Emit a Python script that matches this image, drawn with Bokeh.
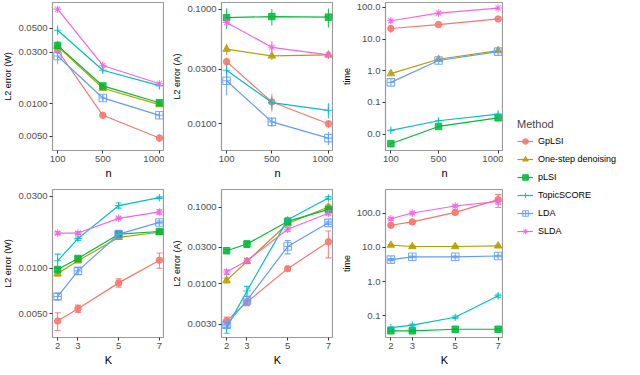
from bokeh.plotting import figure
from bokeh.models import (Range1d, FixedTicker, PrintfTickFormatter, Whisker, TeeHead,
                          ColumnDataSource, Legend, LegendItem)
from bokeh.layouts import row, column
from bokeh.embed import file_html
from bokeh.resources import INLINE

# ---------------- data ----------------
methods = ["GpLSI", "One-step denoising", "pLSI", "TopicSCORE", "LDA", "SLDA"]
colors = ["#F8766D", "#B79F00", "#00BA38", "#00BFC4", "#619CFF", "#F564E3"]
markers = ["circle", "triangle", "square", "cross", "square_cross", "asterisk"]

n_vals = [100, 500, 1000]
K_vals = [2, 3, 5, 7]

# L2 error (W) vs n
w_n = [[0.0313, 0.0078, 0.0048],
       [0.0340, 0.0139, 0.0098],
       [0.0347, 0.0146, 0.0102],
       [0.0480, 0.0204, 0.0147],
       [0.0277, 0.0113, 0.0078],
       [0.0752, 0.0226, 0.0153]]
w_n_sd = [[0.0015, 0.0006, 0.0004],
          [0.0015, 0.0006, 0.0003],
          [0.0035, 0.0006, 0.0003],
          [0.0050, 0.0010, 0.0008],
          [0.0045, 0.0007, 0.0005],
          [0.0040, 0.0012, 0.0006]]

# L2 error (A) vs n
a_n = [[0.0348, 0.0155, 0.0100],
       [0.0447, 0.0390, 0.0398],
       [0.0840, 0.0860, 0.0850],
       [0.0293, 0.0153, 0.0131],
       [0.0237, 0.0104, 0.0075],
       [0.0764, 0.0464, 0.0398]]
a_n_sd = [[0.003, 0.0028, 0.0008],
          [0.005, 0.003, 0.003],
          [0.017, 0.014, 0.016],
          [0.004, 0.002, 0.002],
          [0.006, 0.001, 0.001],
          [0.003, 0.006, 0.003]]

# time vs n
t_n = [[21.5, 28.5, 43.0],
       [0.81, 2.3, 4.3],
       [0.005, 0.0175, 0.0327],
       [0.0132, 0.0265, 0.043],
       [0.43, 2.1, 4.0],
       [37.7, 66.0, 95.0]]
t_n_sd = [[6.0, 2.0, 3.0],
          [0.05, 0.15, 0.3],
          [0.0005, 0.0015, 0.003],
          [0.002, 0.003, 0.008],
          [0.03, 0.15, 0.3],
          [7.0, 5.0, 8.0]]

# L2 error (W) vs K
w_k = [[0.00447, 0.0054, 0.0080, 0.0113],
       [0.0092, 0.0112, 0.0160, 0.0173],
       [0.0098, 0.0116, 0.0168, 0.0175],
       [0.0112, 0.0157, 0.0260, 0.0293],
       [0.0065, 0.0096, 0.0168, 0.0201],
       [0.0171, 0.0171, 0.0214, 0.0236]]
w_k_sd = [[0.0006, 0.0003, 0.0005, 0.0013],
          [0.0003, 0.0003, 0.0005, 0.0003],
          [0.0003, 0.0003, 0.0003, 0.0003],
          [0.0012, 0.0004, 0.0010, 0.0004],
          [0.0003, 0.0005, 0.0010, 0.0004],
          [0.0004, 0.0004, 0.0004, 0.0008]]

# L2 error (A) vs K
a_k = [[0.0033, 0.0058, 0.0158, 0.0353],
       [0.0111, 0.0196, 0.061, 0.100],
       [0.027, 0.033, 0.065, 0.093],
       [0.00268, 0.0081, 0.0685, 0.131],
       [0.00295, 0.0061, 0.0306, 0.0623],
       [0.0143, 0.020, 0.0515, 0.083]]
a_k_sd = [[0.0004, 0.0006, 0.0008, 0.0135],
          [0.0008, 0.001, 0.004, 0.006],
          [0.001, 0.003, 0.004, 0.006],
          [0.0004, 0.0012, 0.004, 0.006],
          [0.0002, 0.0008, 0.006, 0.003],
          [0.001, 0.0015, 0.003, 0.004]]

# time vs K
t_k = [[44.0, 55.0, 105.0, 245.0],
       [11.6, 10.6, 10.6, 11.0],
       [0.037, 0.037, 0.041, 0.041],
       [0.0456, 0.054, 0.092, 0.39],
       [4.4, 5.3, 5.3, 5.6],
       [68.0, 100.0, 160.0, 220.0]]
t_k_sd = [[3.0, 4.0, 15.0, 100.0],
          [0.5, 0.5, 0.5, 0.5],
          [0.002, 0.002, 0.002, 0.002],
          [0.003, 0.004, 0.008, 0.04],
          [0.3, 0.3, 0.3, 0.3],
          [5.0, 6.0, 10.0, 40.0]]

n_ticks = [100, 500, 1000]
K_ticks = [2, 3, 5, 7]

FONT = "Liberation Sans"
FH = 148
FILLED = ("circle", "triangle", "square")


def add_marker(p, src, m, c):
    if m in FILLED:
        return p.scatter("x", "y", source=src, marker=m, size=6.5 if m != "triangle" else 7.5,
                         fill_color=c, line_color=c, alpha=0.85)
    return p.scatter("x", "y", source=src, marker=m, size=7.5, fill_color=None,
                     line_color=c, line_width=1.1, alpha=0.85)


def panel(xs, xticks, xr, xlabel, ylabel, yticks, yr, fmt, vals, sds, caps,
          fw, left, top, bottom):
    p = figure(frame_width=fw, frame_height=FH, x_range=Range1d(*xr),
               y_range=Range1d(*yr), y_axis_type="log", output_backend="svg",
               toolbar_location=None, min_border_left=left, min_border_right=0,
               min_border_top=top, min_border_bottom=bottom)
    p.grid.visible = False
    p.outline_line_color = "#9A9A9A"
    p.outline_line_width = 1.2
    for v, s, c, m in zip(vals, sds, colors, markers):
        src = ColumnDataSource(dict(x=xs, y=v,
                                    lo=[a - b for a, b in zip(v, s)],
                                    hi=[a + b for a, b in zip(v, s)]))
        p.line("x", "y", source=src, line_color=c, line_width=1.2)
        if caps:
            w = Whisker(base="x", lower="lo", upper="hi", source=src,
                        line_color=c, line_width=1.1, line_alpha=0.85,
                        lower_head=TeeHead(size=6, line_color=c, line_width=1.1, line_alpha=0.85),
                        upper_head=TeeHead(size=6, line_color=c, line_width=1.1, line_alpha=0.85))
        else:
            w = Whisker(base="x", lower="lo", upper="hi", source=src,
                        line_color=c, line_width=1.1, line_alpha=0.85,
                        lower_head=None, upper_head=None)
        p.add_layout(w)
        add_marker(p, src, m, c)
    p.xaxis.ticker = FixedTicker(ticks=xticks)
    p.yaxis.ticker = FixedTicker(ticks=yticks, minor_ticks=[])
    p.yaxis.formatter = PrintfTickFormatter(format=fmt)
    p.xaxis.axis_label = xlabel
    p.yaxis.axis_label = ylabel
    for ax in (p.xaxis, p.yaxis):
        ax.axis_line_color = None
        ax.major_tick_line_color = "#333333"
        ax.major_tick_in = 0
        ax.major_tick_out = 3
        ax.minor_tick_line_color = None
        ax.major_label_text_font = FONT
        ax.major_label_text_font_size = "9.5px"
        ax.major_label_text_color = "#4D4D4D"
        ax.major_label_standoff = 2
        ax.axis_label_text_font = FONT
        ax.axis_label_text_font_style = "normal"
        ax.axis_label_text_color = "black"
        ax.axis_label_standoff = 2
    p.xaxis.axis_label_text_font_size = "11px"
    p.yaxis.axis_label_text_font_size = "9px"
    return p


B1 = 36
B2 = 25
p1 = panel(n_vals, n_ticks, (55, 1045), "n", "L2 error (W)", [0.005, 0.01, 0.03, 0.05],
           (0.00368, 0.0867), "%.4f", w_n, w_n_sd, False, 112, 44, 2, B1)
p2 = panel(n_vals, n_ticks, (55, 1045), "n", "L2 error (A)", [0.01, 0.03, 0.1],
           (0.00585, 0.114), "%.4f", a_n, a_n_sd, False, 112, 57, 2, B1)
p3 = panel(n_vals, n_ticks, (55, 1045), "n", "time", [0.01, 0.1, 1, 10, 100],
           (0.00305, 142), "%.1f", t_n, t_n_sd, False, 118, 52, 2, B1)
p4 = panel(K_vals, K_ticks, (1.75, 7.25), "K", "L2 error (W)", [0.005, 0.01, 0.03],
           (0.00348, 0.0332), "%.4f", w_k, w_k_sd, True, 112, 44, 3, B2)
p5 = panel(K_vals, K_ticks, (1.75, 7.25), "K", "L2 error (A)", [0.003, 0.01, 0.03, 0.1],
           (0.00201, 0.169), "%.4f", a_k, a_k_sd, True, 112, 57, 3, B2)
p6 = panel(K_vals, K_ticks, (1.75, 7.25), "K", "time", [0.1, 1, 10, 100],
           (0.0236, 485), "%.1f", t_k, t_k_sd, True, 118, 52, 3, B2)

# legend figure
lg = figure(frame_width=116, frame_height=358, output_backend="svg", toolbar_location=None,
            min_border=0, x_range=Range1d(0, 1), y_range=Range1d(0, 1))
lg.axis.visible = False
lg.grid.visible = False
lg.outline_line_color = None
items = []
for name, c, m in zip(methods, colors, markers):
    off = ColumnDataSource(dict(x=[-5], y=[-5]))
    r1 = lg.line("x", "y", source=off, line_color=c, line_width=1.2)
    r2 = add_marker(lg, off, m, c)
    items.append(LegendItem(label=name, renderers=[r1, r2]))
legend = Legend(items=items, location=(14, 120), title="Method",
                title_text_font=FONT, title_text_font_size="11px", title_text_font_style="normal",
                title_standoff=4,
                label_text_font=FONT, label_text_font_size="9px", label_text_color="black",
                label_text_font_style="normal",
                glyph_width=16, glyph_height=14, label_height=14, label_standoff=5,
                spacing=4, padding=0, margin=0, border_line_color=None,
                background_fill_alpha=0)
lg.add_layout(legend, "center")

layout = row(column(row(p1, p2, p3), row(p4, p5, p6)), lg)
open("out.html", "w").write(file_html(layout, INLINE))
